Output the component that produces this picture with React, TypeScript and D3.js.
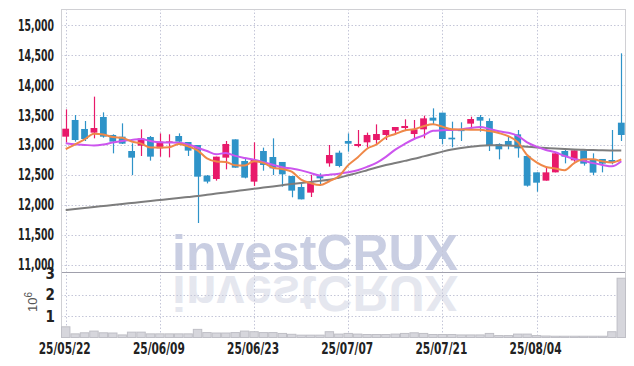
import React from "react";
import * as d3 from "d3";

const dates = [
  "25/05/22", "25/05/23", "25/05/26", "25/05/27", "25/05/28", "25/05/29", "25/05/30", "25/06/02", "25/06/04", "25/06/05",
  "25/06/09", "25/06/10", "25/06/11", "25/06/12", "25/06/13", "25/06/16", "25/06/17", "25/06/18", "25/06/19", "25/06/20",
  "25/06/23", "25/06/24", "25/06/25", "25/06/26", "25/06/27", "25/06/30", "25/07/01", "25/07/02", "25/07/03", "25/07/04",
  "25/07/07", "25/07/08", "25/07/09", "25/07/10", "25/07/11", "25/07/14", "25/07/15", "25/07/16", "25/07/17", "25/07/18",
  "25/07/21", "25/07/22", "25/07/23", "25/07/24", "25/07/25", "25/07/28", "25/07/29", "25/07/30", "25/07/31", "25/08/01",
  "25/08/04", "25/08/05", "25/08/06", "25/08/07", "25/08/08", "25/08/11", "25/08/12", "25/08/13", "25/08/14", "25/08/18",
];

const opens = [
  13139, 13417, 13267, 13206, 13467, 13167, 13139, 12900, 12989, 13133,
  12944, 13040, 13150, 13050, 13000, 12490, 12433, 12789, 13094, 12733,
  12389, 12900, 12800, 12717, 12483, 12300, 12206, 12500, 12694, 12872,
  13067, 12983, 13044, 13083, 13167, 13239, 13283, 13183, 13261, 13456,
  13539, 13122, 13256, 13356, 13467, 13400, 13017, 13067, 13178, 12817,
  12544, 12406, 12544, 12900, 12744, 12911, 12750, 12767, 12750, 13372,
];

const highs = [
  13594, 13500, 13400, 13806, 13544, 13178, 13361, 13028, 13261, 13150,
  13194, 13178, 13194, 13050, 13000, 12500, 12806, 13067, 13094, 12778,
  13044, 12956, 13111, 12717, 12483, 12361, 12500, 12528, 13000, 12906,
  13194, 13250, 13206, 13344, 13250, 13300, 13428, 13417, 13489, 13611,
  13539, 13389, 13378, 13472, 13500, 13444, 13028, 13144, 13250, 12817,
  12544, 12639, 12872, 12917, 12911, 12933, 12861, 12767, 13250, 14528,
];

const lows = [
  13044, 13056, 13067, 13111, 13122, 12861, 13017, 12500, 12817, 12739,
  12806, 12794, 13028, 12817, 11700, 12360, 12406, 12594, 12622, 12444,
  12317, 12572, 12500, 12306, 12128, 12094, 12133, 12317, 12639, 12628,
  12889, 12961, 12956, 13011, 13083, 13194, 13233, 13111, 13111, 13333,
  13011, 12961, 13067, 13250, 13222, 12900, 12761, 12928, 12789, 12306,
  12222, 12406, 12544, 12694, 12722, 12656, 12500, 12544, 12678, 13067,
];

const closes = [
  13272, 13083, 13100, 13283, 13139, 13056, 13022, 12789, 13111, 12806,
  13056, 13060, 13056, 12906, 12472, 12390, 12806, 13017, 12622, 12456,
  12750, 12667, 12611, 12511, 12239, 12094, 12372, 12444, 12833, 12650,
  13022, 13017, 13167, 13183, 13250, 13300, 13317, 13261, 13444, 13406,
  13100, 13094, 13244, 13433, 13406, 12983, 12928, 12989, 12944, 12322,
  12372, 12544, 12861, 12806, 12911, 12689, 12539, 12689, 12711, 13167,
];

// volume in millions of shares
const volumes = [
  0.5, 0.17, 0.22, 0.3, 0.22, 0.21, 0.12, 0.25, 0.25, 0.17,
  0.17, 0.17, 0.17, 0.17, 0.38, 0.23, 0.21, 0.21, 0.23, 0.3,
  0.27, 0.23, 0.23, 0.19, 0.15, 0.11, 0.11, 0.11, 0.27, 0.16,
  0.19, 0.16, 0.14, 0.14, 0.14, 0.16, 0.19, 0.22, 0.19, 0.14,
  0.14, 0.14, 0.12, 0.12, 0.12, 0.19, 0.09, 0.09, 0.16, 0.16,
  0.09, 0.07, 0.06, 0.06, 0.06, 0.06, 0.06, 0.06, 0.27, 2.77,
];

const ma5 = [
  12933, 13011, 13094, 13189, 13175, 13132, 13120, 13058, 13023, 12957,
  12957, 12964, 13018, 12977, 12910, 12777, 12726, 12718, 12661, 12658,
  12730, 12702, 12621, 12599, 12556, 12424, 12365, 12332, 12396, 12479,
  12664, 12793, 12938, 13008, 13128, 13183, 13243, 13262, 13314, 13346,
  13306, 13261, 13258, 13255, 13255, 13232, 13199, 13148, 13050, 12833,
  12711, 12634, 12609, 12581, 12699, 12762, 12761, 12727, 12708, 12759,
];

const ma10 = [
  13030, 13012, 13002, 12992, 13008, 13042, 13067, 13083, 13100, 13066,
  13045, 13042, 13038, 13010, 12955, 12900, 12845, 12868, 12819, 12784,
  12754, 12714, 12670, 12630, 12607, 12577, 12534, 12490, 12505, 12522,
  12544, 12579, 12635, 12702, 12803, 12924, 13018, 13100, 13161, 13237,
  13245, 13252, 13260, 13285, 13301, 13269, 13230, 13203, 13153, 13044,
  12972, 12917, 12878, 12816, 12766, 12737, 12698, 12668, 12644, 12729,
];

const maLong = [
  11917, 11933, 11950, 11966, 11983, 12000, 12016, 12033, 12050, 12066,
  12083, 12100, 12116, 12133, 12150, 12170, 12190, 12210, 12230, 12250,
  12270, 12290, 12310, 12330, 12350, 12368, 12385, 12402, 12420, 12455,
  12495, 12535, 12580, 12625, 12665, 12700, 12735, 12770, 12810, 12850,
  12890, 12925, 12950, 12972, 12988, 12995, 12995, 12990, 12982, 12972,
  12960, 12950, 12940, 12932, 12925, 12920, 12915, 12912, 12910, 12908,
];

const priceTicks = [11000, 11500, 12000, 12500, 13000, 13500, 14000, 14500, 15000];
const volumeTicks = [1, 2, 3];
const dateTickIdx = [0, 10, 20, 30, 40, 50];

const UP = "#e8196a";
const DOWN = "#2e93c8";
const LABEL_FONT = "'Liberation Sans Narrow', 'DejaVu Sans Condensed', 'Roboto', sans-serif";

export default function App() {
  const W = 634;
  const H = 366;
  const left = 61;
  const right = 626;
  const top = 9;
  const priceBottom = 272;
  const volTop = 273.3;
  const volBottom = 337.5;

  const idx = d3.range(dates.length);
  const x = d3.scaleBand<number>().domain(idx).range([left, right]).padding(0);
  const bw = x.bandwidth();
  const cx = (i: number) => (x(i) as number) + bw / 2;
  const y = d3.scaleLinear().domain([10883, 15267]).range([priceBottom, top]);
  const yv = d3.scaleLinear().domain([0, 3]).range([volBottom, volTop]);

  const line = (vals: number[]) =>
    d3
      .line<number>()
      .x((_, i) => cx(i))
      .y((v) => y(v))
      .curve(d3.curveMonotoneX)(vals) || "";

  const fmt = d3.format(",");
  const bodyW = bw * 0.72;
  const gridColor = "#c4c6d8";

  return (
    <svg
      width={W}
      height={H}
      style={{ position: "absolute", left: 0, top: 0, background: "#fff" }}
    >
      <rect x={0} y={0} width={W} height={H} fill="#fff" />
      {/* watermark */}
      <g fontFamily="'Liberation Sans', Arial, sans-serif" fontWeight="bold" fontSize={50}>
        <text x={172} y={270} fill="#c9cee2" textLength={286} lengthAdjust="spacingAndGlyphs">investCRUX</text>
        <text x={172} y={270} fill="#e5e7ef" textLength={286} lengthAdjust="spacingAndGlyphs" transform="translate(0,546) scale(1,-1)">investCRUX</text>
      </g>

      {/* grid */}
      <g stroke={gridColor} strokeWidth={1} strokeDasharray="1.5,2">
        {priceTicks.map((p) => (
          <line key={"p" + p} x1={left} x2={right} y1={Math.round(y(p)) + 0.5} y2={Math.round(y(p)) + 0.5} />
        ))}
        {volumeTicks.slice(0, 2).map((v) => (
          <line key={"v" + v} x1={left} x2={right} y1={Math.round(yv(v)) + 0.5} y2={Math.round(yv(v)) + 0.5} />
        ))}
        {dateTickIdx.map((i) => (
          <line key={"d" + i} x1={Math.round(cx(i)) + 0.5} x2={Math.round(cx(i)) + 0.5} y1={top} y2={volBottom} />
        ))}
      </g>
      {/* separator */}
      <line x1={left} x2={right} y1={272.5} y2={272.5} stroke="#a0a0ac" strokeWidth={1} />

      {/* frame */}
      <g stroke="#d0d0d4" strokeWidth={1} fill="none">
        <line x1={left + 0.5} x2={left + 0.5} y1={top} y2={volBottom} />
        <line x1={left} x2={right} y1={top + 0.5} y2={top + 0.5} />
        <line x1={right - 0.5} x2={right - 0.5} y1={top} y2={volBottom} />
      </g>

      {/* volume */}
      <g fill="#d6d6dc" stroke="#bfbfc6" strokeWidth={1}>
        {volumes.map((v, i) => (
          <rect key={i} x={(x(i) as number) + 0.5} y={yv(v)} width={bw - 1} height={volBottom - yv(v)} />
        ))}
      </g>

      {/* candles */}
      <g>
        {idx.map((i) => {
          const up = closes[i] >= opens[i];
          const c = up ? UP : DOWN;
          const yt = y(Math.max(opens[i], closes[i]));
          const yb = y(Math.min(opens[i], closes[i]));
          const xc = Math.round(cx(i)) + 0.5;
          return (
            <g key={i}>
              <line x1={xc} x2={xc} y1={y(highs[i])} y2={y(lows[i])} stroke={c} strokeWidth={1.2} />
              <rect x={cx(i) - bodyW / 2} y={yt} width={bodyW} height={Math.max(1.5, yb - yt)} fill={c} />
            </g>
          );
        })}
      </g>

      {/* moving averages */}
      <path d={line(maLong)} fill="none" stroke="#7d7d7d" strokeWidth={2} />
      <path d={line(ma10)} fill="none" stroke="#cc55ee" strokeWidth={2} />
      <path d={line(ma5)} fill="none" stroke="#ef8848" strokeWidth={2} />

      {/* price axis labels */}
      <g fontFamily={LABEL_FONT} fontWeight="bold" fontSize={15} fill="#222" textAnchor="end">
        {priceTicks.map((p) => (
          <text key={p} x={54} y={y(p) + 5.5} textLength={36} lengthAdjust="spacingAndGlyphs">{fmt(p)}</text>
        ))}
        {volumeTicks.map((v) => (
          <text key={"v" + v} x={55} y={yv(v) + 5.5}>{v}</text>
        ))}
      </g>

      {/* volume unit */}
      <text
        transform="translate(37,312) rotate(-90)"
        fontFamily="'Liberation Sans', Arial, sans-serif"
        fontSize={13}
        fill="#555"
      >
        10<tspan dy={-5} fontSize={10}>6</tspan>
      </text>

      {/* date labels */}
      <g fontFamily={LABEL_FONT} fontWeight="bold" fontSize={15} fill="#222" textAnchor="middle">
        {dateTickIdx.map((i) => (
          <text key={i} x={cx(i) - 1} y={354} textLength={52} lengthAdjust="spacingAndGlyphs">{dates[i]}</text>
        ))}
      </g>
    </svg>
  );
}
